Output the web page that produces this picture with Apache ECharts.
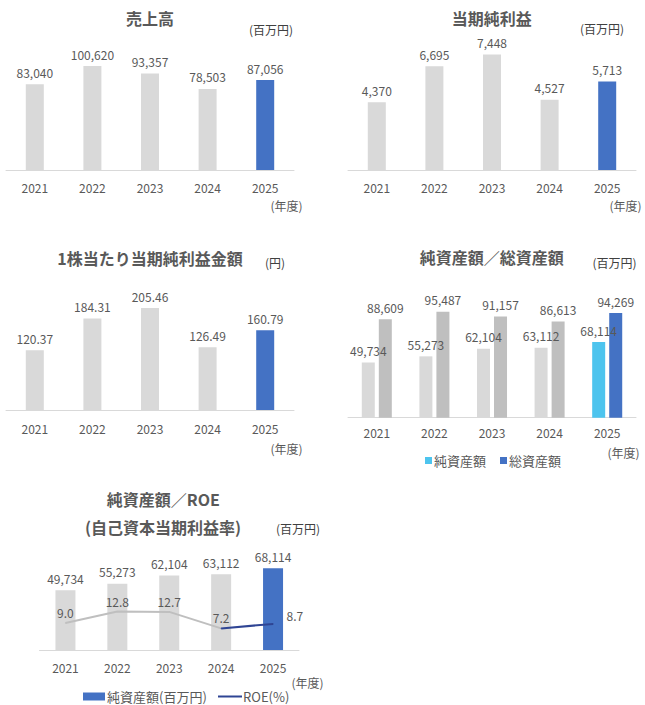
<!DOCTYPE html>
<html>
<head>
<meta charset="utf-8">
<script src="https://cdn.jsdelivr.net/npm/echarts@6/dist/echarts.min.js"></script>
<style>
html,body{margin:0;padding:0;background:#fff;}
#c{width:645px;height:705px;}
</style>
</head>
<body>
<div id="c"></div>
<script>
const years = ['2021','2022','2023','2024','2025'];
const sales = [83040,100620,93357,78503,87056];
const netIncome = [4370,6695,7448,4527,5713];
const eps = [120.37,184.31,205.46,126.49,160.79];
const netAssets = [49734,55273,62104,63112,68114];
const totalAssets = [88609,95487,91157,86613,94269];
const roe = [9.0,12.8,12.7,7.2,8.7];

const GRAY = '#D9D9D9', DGRAY = '#BFBFBF', BLUE = '#4472C4', CYAN = '#4DC4EE', NAVY = '#2F4594';
const TXT = '#595959';
const FONT = '"Noto Sans CJK JP", "Noto Sans", sans-serif';

function hl(arr, base, hi){
  return arr.map((v,i)=>({value:v, itemStyle:{color: i===arr.length-1 ? hi : base}}));
}
const fmtInt = p => Number(p.value).toLocaleString('en-US');
const fmt2 = p => Number(p.value).toFixed(2);
const fmt1 = p => Number(p.value).toFixed(1);

const grids = [
  {left:6, width:288, top:46, height:124},
  {left:348, width:288, top:46, height:124},
  {left:6, width:288, top:286, height:124},
  {left:348, width:288, top:306.7, height:111},
  {left:39.5, width:259.5, top:530, height:120}
];
const margins = [11,11,12,9,11];
const xAxes = grids.map((g,i)=>({
  type:'category', data:years, gridIndex:i,
  axisTick:{show:false},
  axisLine:{lineStyle:{color:GRAY, width:1}},
  axisLabel:{color:TXT, fontSize:12, margin:margins[i], fontFamily:FONT}
}));
const yMax = [120000, 8000, 250, 100000, 100000];
const yAxes = yMax.map((m,i)=>({type:'value', gridIndex:i, min:0, max:m, show:false}));
yAxes.push({type:'value', gridIndex:4, min:0, max:40, show:false});

const lbl = (f)=>({show:true, position:'top', distance:6, color:TXT, fontSize:12, fontFamily:FONT, formatter:f});
const lineLbl = {color:TXT, fontSize:12, fontFamily:FONT, formatter:fmt1};

const series = [
  {name:'売上高', type:'bar', xAxisIndex:0, yAxisIndex:0, barWidth:18, data:hl(sales,GRAY,BLUE), label:lbl(fmtInt)},
  {name:'当期純利益', type:'bar', xAxisIndex:1, yAxisIndex:1, barWidth:18, data:hl(netIncome,GRAY,BLUE), label:lbl(fmtInt)},
  {name:'1株当たり当期純利益金額', type:'bar', xAxisIndex:2, yAxisIndex:2, barWidth:18, data:hl(eps,GRAY,BLUE), label:lbl(fmt2)},
  {name:'純資産額', type:'bar', xAxisIndex:3, yAxisIndex:3, barWidth:13, barGap:'31%', itemStyle:{color:CYAN}, data:hl(netAssets,GRAY,CYAN), label:lbl(fmtInt)},
  {name:'総資産額', type:'bar', xAxisIndex:3, yAxisIndex:3, barWidth:13, barGap:'31%', itemStyle:{color:BLUE}, data:hl(totalAssets,DGRAY,BLUE), label:lbl(fmtInt)},
  {name:'純資産額(百万円)', type:'bar', xAxisIndex:4, yAxisIndex:4, barWidth:20, itemStyle:{color:BLUE}, data:hl(netAssets,GRAY,BLUE), label:lbl(fmtInt)},
  {name:'ROE過去', type:'line', xAxisIndex:4, yAxisIndex:5, symbol:'circle', symbolSize:1, showSymbol:true, z:5,
   lineStyle:{color:DGRAY, width:2}, itemStyle:{color:DGRAY},
   data:roe.map((v,i)=> i<=3 ? v : '-'),
   label:Object.assign({show:true, position:'top', distance:4}, lineLbl)},
  {name:'ROE(%)', type:'line', xAxisIndex:4, yAxisIndex:5, symbol:'circle', symbolSize:1, showSymbol:true, z:6,
   lineStyle:{color:NAVY, width:2}, itemStyle:{color:NAVY},
   data:roe.map((v,i)=> i<3 ? '-' : (i===roe.length-1 ? {value:v, label:Object.assign({show:true, position:'right', distance:13, offset:[0,-8]}, lineLbl)} : v)),
   label:{show:false}}
];

function txt(x,y,text,opts){
  return {type:'text', x:x, y:y, silent:true, style:Object.assign({
    text:text, fill:TXT, font:'12px '+FONT, align:'center', verticalAlign:'middle'
  }, opts||{})};
}
const BOLD = 'bold 16px '+FONT;
const graphics = [
  txt(150,18,'売上高',{font:BOLD}),
  txt(271,29,'(百万円)',{fill:'#404040'}),
  txt(286.5,205,'(年度)'),
  txt(491.7,18,'当期純利益',{font:BOLD}),
  txt(602,28,'(百万円)',{fill:'#404040'}),
  txt(625.5,205,'(年度)'),
  txt(150,258,'1株当たり当期純利益金額',{font:BOLD}),
  txt(275,262,'(円)',{fill:'#404040'}),
  txt(286.5,448,'(年度)'),
  txt(491.7,257,'純資産額／総資産額',{font:BOLD}),
  txt(614.5,262,'(百万円)',{fill:'#404040'}),
  txt(623.5,452,'(年度)'),
  txt(163.3,499.3,'純資産額／ROE',{font:BOLD}),
  txt(163,526.7,'(自己資本当期利益率)',{font:BOLD}),
  txt(298,528,'(百万円)',{fill:'#404040'}),
  txt(307.5,682,'(年度)')
];

const chart = echarts.init(document.getElementById('c'), null, {renderer:'svg'});
chart.setOption({
  animation:false,
  backgroundColor:'#fff',
  textStyle:{fontFamily:FONT},
  grid:grids,
  xAxis:xAxes,
  yAxis:yAxes,
  legend:[
    {data:['純資産額','総資産額'], left:420, top:449, icon:'rect', itemWidth:7, itemHeight:7, itemGap:14,
     textStyle:{color:TXT, fontSize:13, fontFamily:FONT, padding:[0,0,0,-3]}, selectedMode:false},
    {data:['純資産額(百万円)'], left:78, top:685, icon:'rect', itemWidth:22, itemHeight:8,
     textStyle:{color:TXT, fontSize:13, fontFamily:FONT, padding:[0,0,0,-3]}, selectedMode:false},
    {data:['ROE(%)'], left:213, top:685, icon:'rect', itemWidth:24, itemHeight:2,
     textStyle:{color:TXT, fontSize:13, fontFamily:FONT, padding:[0,0,0,-4]}, selectedMode:false}
  ],
  graphic:graphics,
  series:series
});
</script>
</body>
</html>
